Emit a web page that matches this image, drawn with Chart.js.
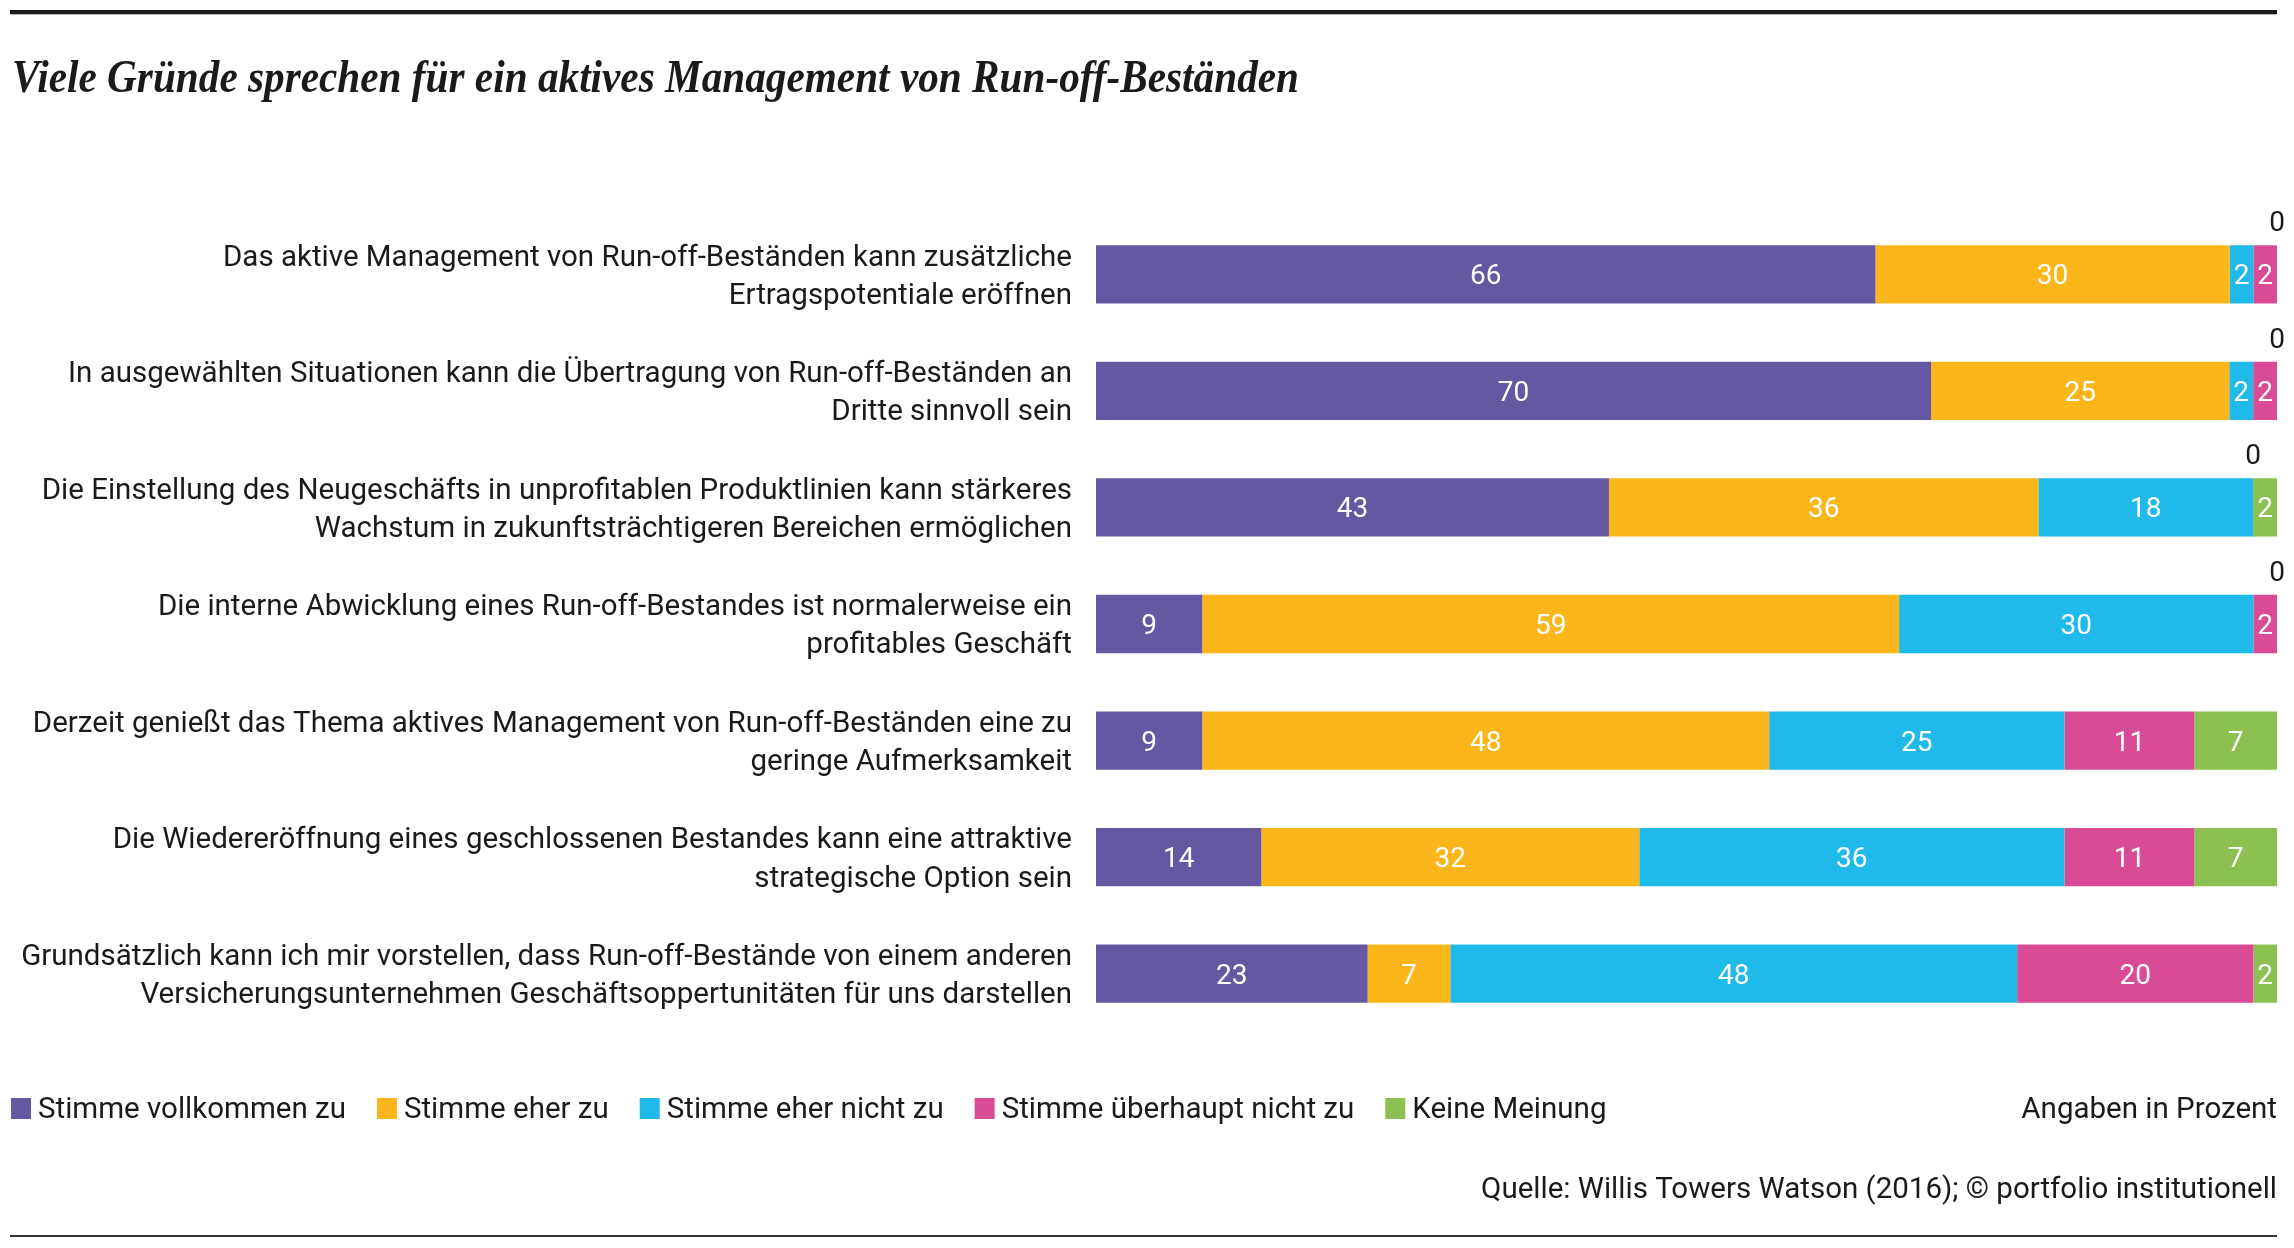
<!DOCTYPE html>
<html lang="de">
<head>
  <meta charset="UTF-8">
  <title>Run-off-Bestände</title>
  <script src="https://cdn.jsdelivr.net/npm/chart.js@4"></script>
  <style>
    html, body { margin: 0; padding: 0; background: #fff; }
    #chart { display: block; }
  </style>
</head>
<body>
  <canvas id="chart" width="2294" height="1248"></canvas>

  <script>
    // Aussagen (y-Achse), zweizeilig wie im Original
    const aussagen = [
      ['Das aktive Management von Run-off-Beständen kann zusätzliche', 'Ertragspotentiale eröffnen'],
      ['In ausgewählten Situationen kann die Übertragung von Run-off-Beständen an', 'Dritte sinnvoll sein'],
      ['Die Einstellung des Neugeschäfts in unprofitablen Produktlinien kann stärkeres', 'Wachstum in zukunftsträchtigeren Bereichen ermöglichen'],
      ['Die interne Abwicklung eines Run-off-Bestandes ist normalerweise ein', 'profitables Geschäft'],
      ['Derzeit genießt das Thema aktives Management von Run-off-Beständen eine zu', 'geringe Aufmerksamkeit'],
      ['Die Wiedereröffnung eines geschlossenen Bestandes kann eine attraktive', 'strategische Option sein'],
      ['Grundsätzlich kann ich mir vorstellen, dass Run-off-Bestände von einem anderen', 'Versicherungsunternehmen Geschäftsoppertunitäten für uns darstellen']
    ];

    const antworten = ['Stimme vollkommen zu', 'Stimme eher zu', 'Stimme eher nicht zu', 'Stimme überhaupt nicht zu', 'Keine Meinung'];

    // Angaben in Prozent
    const vollkommenZu    = [66, 70, 43,  9,  9, 14, 23];
    const eherZu          = [30, 25, 36, 59, 48, 32,  7];
    const eherNichtZu     = [ 2,  2, 18, 30, 25, 36, 48];
    const ueberhauptNicht = [ 2,  2,  0,  2, 11, 11, 20];
    const keineMeinung    = [ 0,  0,  2,  0,  7,  7,  2];

    const farben = ['#6557a1', '#fab61a', '#1fb9ea', '#d94c95', '#8cc152'];

    const reihen = [vollkommenZu, eherZu, eherNichtZu, ueberhauptNicht, keineMeinung];
    // jede Zeile wird auf volle Breite gestreckt (Summen sind teils 99)
    const summen = aussagen.map((_, i) => reihen.reduce((s, r) => s + r[i], 0));

    const schrift = 'Roboto';
    const textFarbe = '#1a1a1a';

    const beschriftung = {
      id: 'beschriftung',
      afterDatasetsDraw(chart) {
        const ctx = chart.ctx;
        ctx.save();
        ctx.font = `28px ${schrift}`;
        ctx.textAlign = 'center';
        ctx.textBaseline = 'middle';
        chart.data.datasets.forEach((ds, d) => {
          chart.getDatasetMeta(d).data.forEach((bar, i) => {
            const wert = reihen[d][i];
            const p = bar.getProps(['x', 'base', 'y', 'height'], true);
            const cx = (p.x + p.base) / 2;
            if (wert === 0) {
              ctx.fillStyle = textFarbe;
              ctx.fillText(String(wert), cx, p.y - p.height / 2 - 21);
            } else {
              ctx.fillStyle = '#fff';
              ctx.fillText(String(wert), cx, p.y + 3);
            }
          });
        });
        ctx.restore();
      }
    };

    const rahmen = {
      id: 'rahmen',
      afterDraw(chart) {
        const ctx = chart.ctx;
        const rechts = chart.chartArea.right;
        ctx.save();

        // Linien oben und unten
        ctx.fillStyle = '#1a1a1a';
        ctx.fillRect(10, 10, rechts - 10, 4);
        ctx.fillStyle = '#bbb';
        ctx.fillRect(10, 14, rechts - 10, 1);
        ctx.fillStyle = '#333';
        ctx.fillRect(10, 1235, rechts - 10, 2);

        // Titel
        const titel = 'Viele Gründe sprechen für ein aktives Management von Run-off-Beständen';
        ctx.font = `italic bold 46px "Liberation Serif"`;
        ctx.fillStyle = textFarbe;
        ctx.textAlign = 'left';
        ctx.textBaseline = 'alphabetic';
        const w = ctx.measureText(titel).width;
        const f = Math.min(1, 1287 / w);
        ctx.save();
        ctx.translate(12, 92);
        ctx.scale(f, 1);
        ctx.fillText(titel, 0, 0);
        ctx.restore();

        // Legende
        ctx.font = `29.5px ${schrift}`;
        ctx.textBaseline = 'middle';
        let x = 11;
        const yL = 1108;
        chart.data.datasets.forEach(ds => {
          ctx.fillStyle = ds.backgroundColor;
          ctx.fillRect(x, yL - 10, 20, 21);
          ctx.fillStyle = textFarbe;
          ctx.fillText(ds.label, x + 27, yL + 3);
          x += 27 + ctx.measureText(ds.label).width + 31;
        });

        ctx.textAlign = 'right';
        ctx.fillText('Angaben in Prozent', rechts, yL + 3);
        ctx.fillText('Quelle: Willis Towers Watson (2016); © portfolio institutionell', rechts, 1191);
        ctx.restore();
      }
    };

    new Chart(document.getElementById('chart'), {
      type: 'bar',
      data: {
        labels: aussagen,
        datasets: reihen.map((r, d) => ({
          label: antworten[d],
          data: r.map((v, i) => v / summen[i] * 100),
          backgroundColor: farben[d],
          borderWidth: 0,
          categoryPercentage: 1,
          barPercentage: 0.5
        }))
      },
      options: {
        indexAxis: 'y',
        responsive: false,
        animation: false,
        layout: { padding: { top: 216, bottom: 216, left: 0, right: 17 } },
        scales: {
          x: { stacked: true, min: 0, max: 100, display: false },
          y: {
            stacked: true,
            grid: { display: false, drawTicks: false },
            border: { display: false },
            ticks: {
              color: textFarbe,
              padding: 24,
              labelOffset: 3,
              font: { family: schrift, size: 29.5, lineHeight: 1.29 }
            },
            afterFit(scale) { scale.width = 1096; }
          }
        },
        plugins: {
          legend: { display: false },
          tooltip: { enabled: false },
          title: { display: false }
        }
      },
      plugins: [beschriftung, rahmen]
    });
  </script>
</body>
</html>
